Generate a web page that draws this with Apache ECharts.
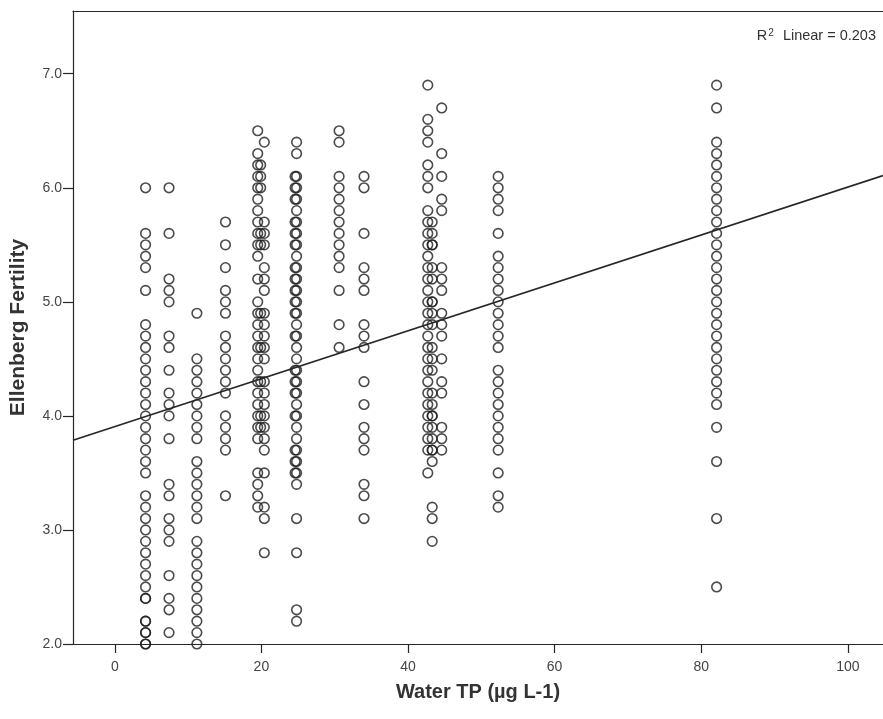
<!DOCTYPE html>
<html>
<head>
<meta charset="utf-8">
<title>Ellenberg Fertility vs Water TP</title>
<script src="https://cdn.jsdelivr.net/npm/echarts@6/dist/echarts.min.js"></script>
<style>
  html, body { margin: 0; padding: 0; background: #ffffff; }
  #chart { width: 883px; height: 719px; }
</style>
</head>
<body>
<div id="chart"></div>
<script>
// Sampling sites: water total phosphorus (µg L-1) and the Ellenberg fertility
// scores of the plots recorded at each site.
const site1X = 4.2;
const site1Y = [6.0, 5.6, 5.5, 5.4, 5.3, 5.1, 4.8, 4.7, 4.6, 4.5, 4.4, 4.3, 4.2, 4.1, 4.0, 3.9, 3.8, 3.7, 3.6, 3.5,
  3.3, 3.2, 3.1, 3.0, 2.9, 2.8, 2.7, 2.6, 2.5, 2.4, 2.4, 2.2, 2.2, 2.1, 2.1, 2.0, 2.0];
const site2X = 7.4;
const site2Y = [6.0, 5.6, 5.2, 5.1, 5.0, 4.7, 4.6, 4.4, 4.2, 4.1, 4.0, 3.8, 3.4, 3.3, 3.1, 3.0, 2.9, 2.6, 2.4, 2.3, 2.1];
const site3X = 11.2;
const site3Y = [4.9, 4.5, 4.4, 4.3, 4.2, 4.1, 4.0, 3.9, 3.8, 3.6, 3.5, 3.4, 3.3, 3.2, 3.1,
  2.9, 2.8, 2.7, 2.6, 2.5, 2.4, 2.3, 2.2, 2.1, 2.0];
const site4X = 15.1;
const site4Y = [5.7, 5.5, 5.3, 5.1, 5.0, 4.9, 4.7, 4.6, 4.5, 4.4, 4.3, 4.2, 4.0, 3.9, 3.8, 3.7, 3.3];
const site5aX = 19.5;
const site5aY = [6.5, 6.3, 6.2, 6.1, 6.0, 5.9, 5.8, 5.7, 5.6, 5.5, 5.4, 5.2, 5.0, 4.9, 4.8, 4.7, 4.6, 4.5, 4.4,
  4.3, 4.2, 4.1, 4.0, 3.9, 3.8, 3.5, 3.4, 3.3, 3.2];
const site5bX = 19.9;
const site5bY = [6.2, 6.1, 6.0, 5.6, 5.5, 4.9, 4.6, 4.3, 4.0, 3.9];
const site5cX = 20.4;
const site5cY = [6.4, 5.7, 5.6, 5.5, 5.3, 5.2, 5.1, 4.9, 4.8, 4.7, 4.6, 4.5, 4.3, 4.2, 4.1, 4.0, 3.9, 3.8, 3.7,
  3.5, 3.2, 3.1, 2.8];
const site6aX = 24.8;
const site6aY = [6.4, 6.3, 6.1, 6.0, 5.9, 5.8, 5.7, 5.6, 5.5, 5.4, 5.3, 5.2, 5.1, 5.0, 4.9, 4.8, 4.7, 4.6, 4.5,
  4.4, 4.3, 4.2, 4.1, 4.0, 3.9, 3.8, 3.7, 3.6, 3.5, 3.4, 3.1, 2.8, 2.3, 2.2];
const site6bX = 24.6;
const site6bY = [6.1, 6.0, 5.9, 5.7, 5.6, 5.5, 5.3, 5.2, 5.1, 5.0, 4.9, 4.7, 4.4, 4.3, 4.2, 4.0, 3.7, 3.6, 3.5];
const site7X = 30.6;
const site7Y = [6.5, 6.4, 6.1, 6.0, 5.9, 5.8, 5.7, 5.6, 5.5, 5.4, 5.3, 5.1, 4.8, 4.6];
const site8X = 34.0;
const site8Y = [6.1, 6.0, 5.6, 5.3, 5.2, 5.1, 4.8, 4.7, 4.6, 4.3, 4.1, 3.9, 3.8, 3.7, 3.4, 3.3, 3.1];
const site9aX = 42.7;
const site9aY = [6.9, 6.6, 6.5, 6.4, 6.2, 6.1, 6.0, 5.8, 5.7, 5.6, 5.5, 5.4, 5.3, 5.2, 5.1, 5.0, 4.9, 4.8, 4.7,
  4.6, 4.5, 4.4, 4.3, 4.2, 4.1, 4.0, 3.9, 3.8, 3.7, 3.5];
const site9bX = 43.3;
const site9bY = [5.7, 5.6, 5.5, 5.5, 5.3, 5.2, 5.0, 5.0, 4.9, 4.8, 4.6, 4.5, 4.4, 4.2, 4.1, 4.0, 4.0, 3.9, 3.8,
  3.7, 3.7, 3.6, 3.2, 3.1, 2.9];
const site9cX = 44.6;
const site9cY = [6.7, 6.3, 6.1, 5.9, 5.8, 5.3, 5.2, 5.1, 4.9, 4.8, 4.7, 4.5, 4.3, 4.2, 3.9, 3.8, 3.7];
const site10X = 52.3;
const site10Y = [6.1, 6.0, 5.9, 5.8, 5.6, 5.4, 5.3, 5.2, 5.1, 5.0, 4.9, 4.8, 4.7, 4.6, 4.4, 4.3, 4.2, 4.1, 4.0,
  3.9, 3.8, 3.7, 3.5, 3.3, 3.2];
const site11X = 82.1;
const site11Y = [6.9, 6.7, 6.4, 6.3, 6.2, 6.1, 6.0, 5.9, 5.8, 5.7, 5.6, 5.5, 5.4, 5.3, 5.2, 5.1, 5.0, 4.9, 4.8,
  4.7, 4.6, 4.5, 4.4, 4.3, 4.2, 4.1, 3.9, 3.6, 3.1, 2.5];

// Fitted linear trend (intercept, slope) and its R².
const fitIntercept = 3.906;
const fitSlope = 0.021;
const fitR2 = '0.203';

// Axis ranges and tick labels.
const xMin = -5.7, xMax = 104.8;
const yMin = 2.0, yMax = 7.55;
const xTicks = [0, 20, 40, 60, 80, 100];
const yTicks = [2.0, 3.0, 4.0, 5.0, 6.0, 7.0];

const siteColumns = [
  [site1X, site1Y], [site2X, site2Y], [site3X, site3Y], [site4X, site4Y],
  [site5aX, site5aY], [site5bX, site5bY], [site5cX, site5cY],
  [site6aX, site6aY], [site6bX, site6bY], [site7X, site7Y], [site8X, site8Y],
  [site9aX, site9aY], [site9bX, site9bY], [site9cX, site9cY],
  [site10X, site10Y], [site11X, site11Y]
];
const points = [];
siteColumns.forEach(([x, ys]) => ys.forEach(y => points.push([x, y])));

const fitLine = [xMin, xMax].map(x => [x, fitIntercept + fitSlope * x]);

const FONT = 'Liberation Sans, Arial, sans-serif';
const INK = '#262626';

const chart = echarts.init(document.getElementById('chart'), null, { renderer: 'canvas' });
chart.setOption({
  backgroundColor: '#ffffff',
  animation: false,
  grid: { left: 73, top: 11, right: 0, bottom: 75, show: false },
  xAxis: [{
    type: 'value', min: xMin, max: xMax, position: 'bottom',
    name: 'Water TP (µg L-1)', nameLocation: 'middle', nameGap: 38,
    nameTextStyle: { fontFamily: FONT, fontSize: 20, fontWeight: 'bold', color: '#333' },
    axisLine: { show: true, onZero: false, lineStyle: { color: INK, width: 1.2 } },
    axisTick: { show: true, length: 9, customValues: xTicks, lineStyle: { color: INK, width: 1.2 } },
    axisLabel: { show: true, customValues: xTicks, margin: 16, fontFamily: FONT, fontSize: 14, color: '#444' },
    splitLine: { show: false }
  }, {
    type: 'value', min: xMin, max: xMax, position: 'top',
    axisLine: { show: true, onZero: false, lineStyle: { color: INK, width: 1.2 } },
    axisTick: { show: false }, axisLabel: { show: false }, splitLine: { show: false }
  }],
  yAxis: {
    type: 'value', min: yMin, max: yMax,
    name: 'Ellenberg Fertility', nameLocation: 'middle', nameGap: 44, nameRotate: 90,
    nameTextStyle: { fontFamily: FONT, fontSize: 21, fontWeight: 'bold', color: '#333' },
    axisLine: { show: true, onZero: false, lineStyle: { color: INK, width: 1.2 } },
    axisTick: { show: true, length: 10, customValues: yTicks, lineStyle: { color: INK, width: 1.2 } },
    axisLabel: { show: true, customValues: yTicks, margin: 11, fontFamily: FONT, fontSize: 14, color: '#444',
      formatter: v => v.toFixed(1) },
    splitLine: { show: false }
  },
  graphic: [{
    type: 'text', right: 7, top: 28,
    style: {
      text: '{b|R}{s|2}{b|  Linear = ' + fitR2 + '}',
      fontFamily: FONT, fill: '#333',
      rich: {
        b: { fontFamily: FONT, fontSize: 14.5, color: '#333' },
        s: { fontFamily: FONT, fontSize: 10, color: '#333', verticalAlign: 'top', padding: [0, 1, 6, 1] }
      }
    }
  }],
  series: [{
    type: 'scatter', xAxisIndex: 0, data: points, symbol: 'circle', symbolSize: 9.6, clip: false,
    itemStyle: { color: 'rgba(255,255,255,0)', borderColor: '#1e1e1e', borderWidth: 1.6 }
  }, {
    type: 'line', xAxisIndex: 0, data: fitLine, symbol: 'none', clip: true,
    lineStyle: { color: INK, width: 1.6 }
  }]
});
</script>
</body>
</html>
